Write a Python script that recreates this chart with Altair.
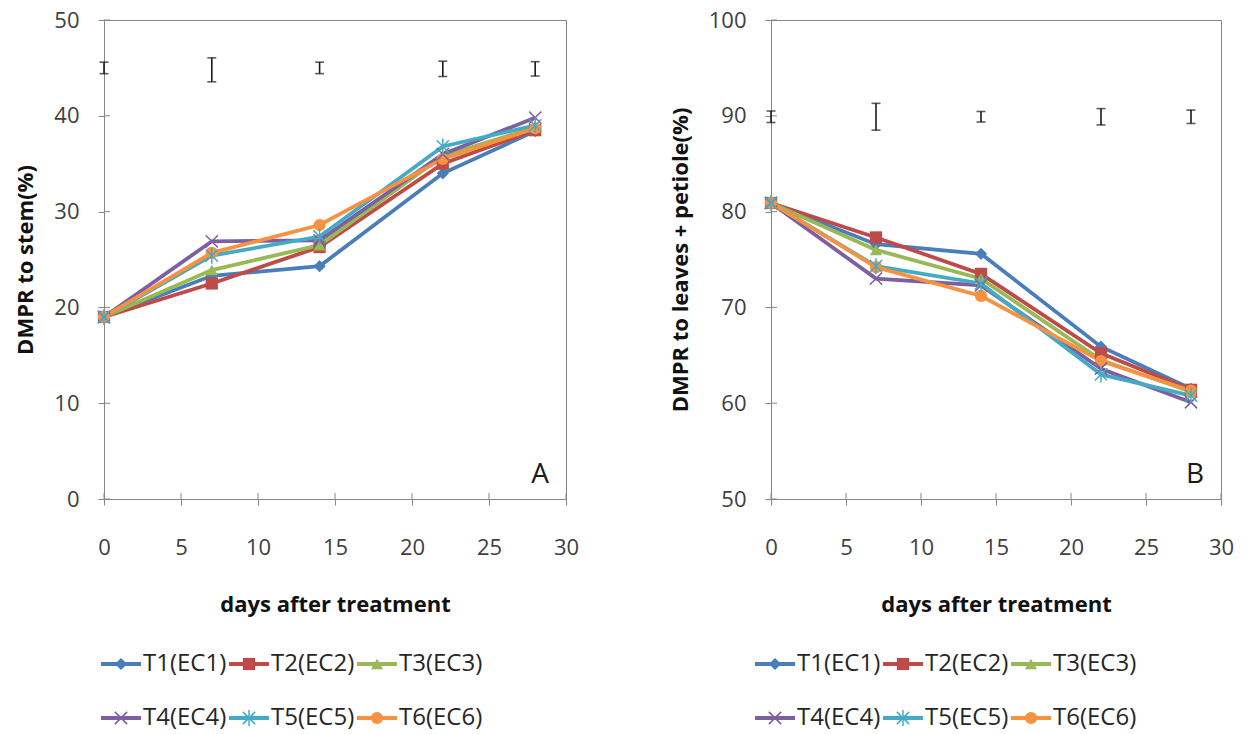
import altair as alt
import pandas as pd

# ---------------- data ----------------
days = [0, 7, 14, 22, 28]
series = ["T1(EC1)", "T2(EC2)", "T3(EC3)", "T4(EC4)", "T5(EC5)", "T6(EC6)"]

stem_T1 = [19.0, 23.3, 24.3, 34.0, 38.4]
stem_T2 = [19.0, 22.5, 26.3, 35.0, 38.5]
stem_T3 = [19.0, 23.9, 26.5, 35.8, 38.8]
stem_T4 = [19.0, 26.9, 27.0, 36.0, 39.8]
stem_T5 = [19.0, 25.4, 27.4, 36.8, 39.0]
stem_T6 = [19.0, 25.7, 28.6, 35.5, 38.7]

leaf_T1 = [80.9, 76.6, 75.6, 65.9, 61.5]
leaf_T2 = [80.9, 77.3, 73.5, 65.2, 61.4]
leaf_T3 = [80.9, 76.0, 73.0, 64.5, 61.2]
leaf_T4 = [80.9, 73.0, 72.3, 63.6, 60.1]
leaf_T5 = [80.9, 74.3, 72.5, 63.0, 60.8]
leaf_T6 = [80.9, 74.2, 71.2, 64.4, 61.3]

stem_err_center = [45.0, 44.8, 45.0, 44.9, 44.9]
stem_err_half = [0.6, 1.25, 0.6, 0.8, 0.75]
leaf_err_center = [89.9, 89.9, 89.9, 89.9, 89.9]
leaf_err_half = [0.6, 1.4, 0.55, 0.85, 0.7]

x_ticks = [0, 5, 10, 15, 20, 25, 30]
stem_ticks = [0, 10, 20, 30, 40, 50]
leaf_ticks = [50, 60, 70, 80, 90, 100]

legend_col = [0, 1, 2, 0, 1, 2]
legend_row = [0, 0, 0, 1, 1, 1]

# ---------------- styles ----------------
colors = ["#4A7EBB", "#BE4B48", "#98B954", "#7D60A0", "#46AAC5", "#F69240"]
X_PATH = "M-1,-1L1,1M-1,1L1,-1"
STAR_PATH = "M-1,-1L1,1M-1,1L1,-1M0,-1.3L0,1.3"
shapes = ["diamond", "square", "triangle-up", X_PATH, STAR_PATH, "circle"]
open_series = ["T4(EC4)", "T5(EC5)"]
FONT = "Open Sans"
AX = "#868686"
PLOT_H = 479
MSIZE = 150

color_enc = alt.Color("series:N", scale=alt.Scale(domain=series, range=colors), legend=None)
shape_enc = alt.Shape("series:N", scale=alt.Scale(domain=series, range=shapes), legend=None)


def long_df(vals):
    rows = []
    for s, v in zip(series, vals):
        for d, y in zip(days, v):
            rows.append({"series": s, "day": d, "value": y})
    return pd.DataFrame(rows)


def panel(vals, ylo, yhi, yticks, ec, eh, ytitle, letter, W):
    df = long_df(vals)
    xscale = alt.Scale(domain=[0, 30], nice=False)
    yscale = alt.Scale(domain=[ylo, yhi], nice=False)
    xaxis = alt.Axis(values=x_ticks, title="days after treatment", tickSize=6,
                     labelPadding=32, titlePadding=36, labelFlush=False)
    yaxis = alt.Axis(values=yticks, title=ytitle, tickSize=6, labelPadding=19,
                     titlePadding=16, labelFlush=False)

    def X(f):
        return alt.X(f"{f}:Q", scale=xscale, axis=xaxis)

    def Y(f):
        return alt.Y(f"{f}:Q", scale=yscale, axis=yaxis)

    base = alt.Chart(df)
    lines = base.mark_line(strokeWidth=3.8).encode(x=X("day"), y=Y("value"), color=color_enc, detail="series:N")
    pts_f = base.transform_filter(
        alt.FieldOneOfPredicate(field="series", oneOf=[s for s in series if s not in open_series])
    ).mark_point(filled=True, size=MSIZE, opacity=1).encode(
        x=X("day"), y=Y("value"), color=color_enc, shape=shape_enc)
    pts_o = base.transform_filter(
        alt.FieldOneOfPredicate(field="series", oneOf=open_series)
    ).mark_point(filled=False, size=MSIZE, opacity=1, strokeWidth=1.5).encode(
        x=X("day"), y=Y("value"), color=color_enc, shape=shape_enc)

    edf = pd.DataFrame({"day": days,
                        "lo": [c - h for c, h in zip(ec, eh)],
                        "hi": [c + h for c, h in zip(ec, eh)]})
    eb = alt.Chart(edf)
    err = eb.mark_rule(color="#1a1a1a", strokeWidth=1.6).encode(x=X("day"), y=Y("lo"), y2="hi:Q")
    cap_lo = eb.mark_tick(color="#1a1a1a", orient="horizontal", size=9, thickness=1.6).encode(x=X("day"), y=Y("lo"))
    cap_hi = eb.mark_tick(color="#1a1a1a", orient="horizontal", size=9, thickness=1.6).encode(x=X("day"), y=Y("hi"))

    xt = alt.Chart(pd.DataFrame({"t": x_ticks})).mark_rule(color=AX, strokeWidth=1).encode(
        x=X("t"), y=alt.value(PLOT_H - 6), y2=alt.value(PLOT_H))
    yt = alt.Chart(pd.DataFrame({"t": yticks})).mark_rule(color=AX, strokeWidth=1).encode(
        y=Y("t"), x=alt.value(0), x2=alt.value(6))

    lab = alt.Chart(pd.DataFrame({"t": [letter]})).mark_text(
        fontSize=28, font=FONT, color="#1a1a1a", align="center", baseline="middle").encode(
        text="t:N", x=alt.value(W - 26), y=alt.value(PLOT_H - 24))

    return alt.layer(xt, yt, err, cap_lo, cap_hi, lines, pts_f, pts_o, lab).properties(width=W, height=PLOT_H)


def legend(offset_px):
    unit = 128.0
    a = offset_px / unit
    ldf = pd.DataFrame({"series": series, "col": legend_col, "row": legend_row})
    lx = alt.Scale(domain=[a, a + 3], nice=False, zero=False)
    ly = alt.Scale(domain=[-0.5, 1.5], nice=False, zero=False, reverse=True)
    base = alt.Chart(ldf).transform_calculate(
        x0="datum.col", x1="datum.col + 40/128", xm="datum.col + 20/128", xt="datum.col + 42/128")
    ln = base.mark_rule(strokeWidth=3.8).encode(
        x=alt.X("x0:Q", scale=lx, axis=None), x2="x1:Q",
        y=alt.Y("row:Q", scale=ly, axis=None), color=color_enc)
    pf = base.transform_filter(
        alt.FieldOneOfPredicate(field="series", oneOf=[s for s in series if s not in open_series])
    ).mark_point(filled=True, size=MSIZE, opacity=1).encode(
        x=alt.X("xm:Q", scale=lx, axis=None), y=alt.Y("row:Q", scale=ly, axis=None),
        color=color_enc, shape=shape_enc)
    po = base.transform_filter(
        alt.FieldOneOfPredicate(field="series", oneOf=open_series)
    ).mark_point(filled=False, size=MSIZE, opacity=1, strokeWidth=1.5).encode(
        x=alt.X("xm:Q", scale=lx, axis=None), y=alt.Y("row:Q", scale=ly, axis=None),
        color=color_enc, shape=shape_enc)
    tx = base.mark_text(fontSize=24, font=FONT, color="#262626", align="left", baseline="middle").encode(
        x=alt.X("xt:Q", scale=lx, axis=None), y=alt.Y("row:Q", scale=ly, axis=None), text="series:N")
    return alt.layer(ln, pf, po, tx).properties(
        width=384, height=108, view=alt.ViewBackground(stroke="transparent"))


left = alt.vconcat(
    panel([stem_T1, stem_T2, stem_T3, stem_T4, stem_T5, stem_T6], 0, 50, stem_ticks,
          stem_err_center, stem_err_half, "DMPR to stem(%)", "A", 462),
    legend(3), spacing=20)
right = alt.vconcat(
    panel([leaf_T1, leaf_T2, leaf_T3, leaf_T4, leaf_T5, leaf_T6], 50, 100, leaf_ticks,
          leaf_err_center, leaf_err_half, "DMPR to leaves + petiole(%)", "B", 450),
    legend(16), spacing=20)

chart = alt.hconcat(left, right, spacing=88).properties(
    padding={"left": 14, "top": 8, "right": 5, "bottom": 5},
    background="white",
).configure_view(stroke=AX, strokeWidth=1).configure_axis(
    domainColor=AX, tickColor=AX, labelColor="#404040", labelFont=FONT, titleFont=FONT,
    labelFontSize=22, titleFontSize=22, titleFontWeight="bold", titleColor="#111111", grid=False,
)

chart.save("out.html", embed_options={"renderer": "svg", "actions": False})
